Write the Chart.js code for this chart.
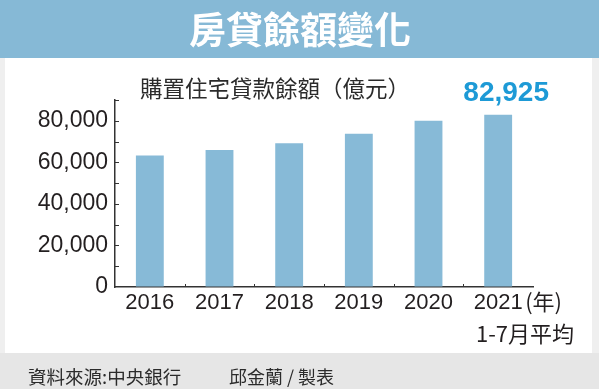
<!DOCTYPE html>
<html>
<head>
<meta charset="utf-8">
<script src="https://cdn.jsdelivr.net/npm/chart.js@4.4.1/dist/chart.umd.min.js"></script>
<style>
  html, body { margin: 0; padding: 0; background: #eeeeee; }
  canvas { display: block; }
</style>
</head>
<body>
<canvas id="chart" width="599" height="389"></canvas>
<script>
// data (億元)
var years = ['2016', '2017', '2018', '2019', '2020', '2021'];
var balances = [63300, 65900, 69200, 73800, 80000, 82925];
var labeledTicks = [0, 20000, 40000, 60000, 80000];
var yMax = 90000;

var title = '房貸餘額變化';
var subtitle = '購置住宅貸款餘額（億元）';
var yearUnit = '(年)';
var lastNote = '1-7月平均';
var source = '資料來源:中央銀行';
var credit = '邱金蘭 / 製表';

var latin = '"Liberation Sans", Arial, sans-serif';
var cjk = '"Noto Sans CJK TC", "Liberation Sans", sans-serif';
var barBlue = '#87bad7';
var ink = '#231f20';

var framePlugin = {
  id: 'frame',
  beforeDraw: function (chart) {
    var c = chart.ctx;
    c.save();
    c.fillStyle = '#efefef';
    c.fillRect(0, 0, chart.width, chart.height);
    c.fillStyle = '#ffffff';
    c.fillRect(5, 58, 587, 295);
    c.fillStyle = '#e6e6e6';
    c.fillRect(0, 353, chart.width, chart.height - 353);
    c.fillStyle = '#86b9d6';
    c.fillRect(0, 0, chart.width, 58);

    c.fillStyle = '#ffffff';
    c.font = 'bold 37px ' + cjk;
    c.textAlign = 'center';
    c.textBaseline = 'middle';
    c.fillText(title, 300, 30);
    c.restore();
  },
  afterDraw: function (chart) {
    var c = chart.ctx;
    var xs = chart.scales.x;
    var ys = chart.scales.y;
    var area = chart.chartArea;
    c.save();

    // inward tick marks
    c.strokeStyle = '#333333';
    c.lineWidth = 1;
    c.beginPath();
    ys.ticks.forEach(function (t) {
      var y = Math.round(ys.getPixelForValue(t.value)) + 0.5;
      if (t.value === 0) return;
      c.moveTo(area.left, y);
      c.lineTo(area.left + 4, y);
    });
    for (var i = 0; i < years.length - 1; i++) {
      var bx = Math.round((xs.getPixelForValue(i) + xs.getPixelForValue(i + 1)) / 2) + 0.5;
      c.moveTo(bx, area.bottom);
      c.lineTo(bx, area.bottom - 3);
    }
    c.stroke();

    // subtitle
    c.fillStyle = '#2b2b2b';
    c.font = '22.5px ' + cjk;
    c.textAlign = 'left';
    c.textBaseline = 'middle';
    c.fillText(subtitle, 140, 88);

    // highlight value over last bar
    var last = balances.length - 1;
    c.fillStyle = '#1d9ad6';
    c.font = 'bold 28px ' + latin;
    c.textAlign = 'center';
    c.fillText(lastLabel(balances[last]), xs.getPixelForValue(last) + 8, ys.getPixelForValue(balances[last]) - 21);

    // year unit and note under last label
    var lastX = xs.getPixelForValue(last);
    c.fillStyle = ink;
    c.font = '22px ' + cjk;
    c.textAlign = 'left';
    c.fillText(yearUnit, lastX + 27, 302);
    c.textAlign = 'right';
    c.fillText(lastNote, 574, 334);

    // footer
    c.fillStyle = '#2b2b2b';
    c.font = '18.5px ' + cjk;
    c.textAlign = 'left';
    c.fillText(source, 28, 377);
    c.font = '18px ' + cjk;
    c.fillText(credit, 229, 377);
    c.restore();
  }
};

function lastLabel(v) {
  return v.toLocaleString('en-US');
}

new Chart(document.getElementById('chart'), {
  type: 'bar',
  data: {
    labels: years,
    datasets: [{
      data: balances,
      backgroundColor: barBlue,
      borderWidth: 0,
      categoryPercentage: 1,
      barPercentage: 0.4
    }]
  },
  options: {
    responsive: false,
    animation: false,
    events: [],
    layout: { padding: { left: 0, right: 66, top: 100, bottom: 0 } },
    plugins: {
      legend: { display: false },
      tooltip: { enabled: false }
    },
    scales: {
      x: {
        offset: true,
        grid: { display: true, drawOnChartArea: false, drawTicks: false },
        border: { display: true, color: '#333333', width: 1.5 },
        ticks: {
          color: ink,
          font: { family: latin, size: 22 },
          padding: 3,
          maxRotation: 0,
          autoSkip: false
        },
        afterFit: function (s) { s.height = 102; }
      },
      y: {
        min: 0,
        max: yMax,
        grid: { display: true, drawOnChartArea: false, drawTicks: false },
        border: { display: true, color: '#333333', width: 1.5 },
        ticks: {
          stepSize: 10000,
          autoSkip: false,
          color: ink,
          font: { family: latin, size: 23 },
          padding: 7,
          callback: function (v) {
            return labeledTicks.indexOf(v) >= 0 ? v.toLocaleString('en-US') : '';
          }
        },
        afterFit: function (s) { s.width = 115; }
      }
    }
  },
  plugins: [framePlugin]
});
</script>
</body>
</html>
